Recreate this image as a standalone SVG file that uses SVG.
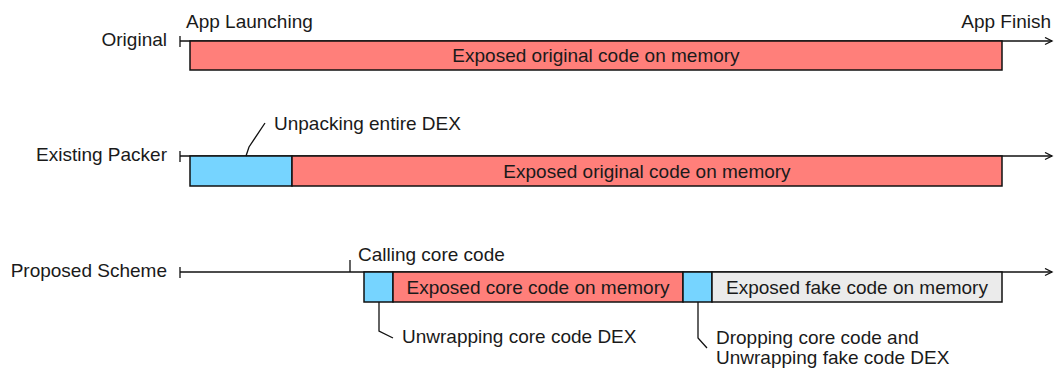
<svg xmlns="http://www.w3.org/2000/svg" width="1055" height="369" viewBox="0 0 1055 369">
  <defs>
    <marker id="arrow" markerWidth="10" markerHeight="10" refX="8" refY="4" orient="auto" markerUnits="userSpaceOnUse">
      <path d="M1,0.5 L8,4 L1,7.5" fill="none" stroke="#111" stroke-width="1.3"/>
    </marker>
  </defs>
  <style>
    text { font-family: "Liberation Sans", Arial, sans-serif; font-size: 19px; fill: #1a1a1a; }
    .axis { stroke: #111; stroke-width: 1.3; fill: none; }
    .lead { stroke: #111; stroke-width: 1.3; fill: none; }
    .seg { stroke: #111; stroke-width: 1.5; }
    .red { fill: #FF7F7A; }
    .blue { fill: #76D4FF; }
    .gray { fill: #EBEBEB; }
    .lbl { text-anchor: end; }
    .mid { text-anchor: middle; }
  </style>

  <!-- Row 1: original app -->
  <g id="row-original">
    <text class="lbl" x="167" y="46">Original</text>
    <line class="axis" x1="180" y1="36" x2="180" y2="47"/>
    <line class="axis" x1="180" y1="41" x2="1052" y2="41" marker-end="url(#arrow)"/>
    <rect class="seg red" x="190" y="41" width="812" height="29"/>
    <text class="mid" x="596" y="62">Exposed original code on memory</text>
    <text x="186" y="28">App Launching</text>
    <text class="lbl" x="1051" y="28">App Finish</text>
  </g>

  <!-- Row 2: existing packer -->
  <g id="row-existing">
    <text class="lbl" x="167" y="161">Existing Packer</text>
    <line class="axis" x1="180" y1="151" x2="180" y2="162"/>
    <line class="axis" x1="180" y1="156" x2="1052" y2="156" marker-end="url(#arrow)"/>
    <rect class="seg blue" x="190" y="156" width="102" height="30"/>
    <rect class="seg red" x="292" y="156" width="710" height="30"/>
    <text class="mid" x="647" y="178">Exposed original code on memory</text>
    <path class="lead" d="M246,156 L249,147 L265,123"/>
    <text x="274" y="130">Unpacking entire DEX</text>
  </g>

  <!-- Row 3: proposed scheme -->
  <g id="row-proposed">
    <text class="lbl" x="167" y="277">Proposed Scheme</text>
    <line class="axis" x1="180" y1="267" x2="180" y2="278"/>
    <line class="axis" x1="180" y1="272" x2="1052" y2="272" marker-end="url(#arrow)"/>
    <line class="axis" x1="350" y1="260" x2="350" y2="272"/>
    <text x="358" y="261">Calling core code</text>
    <rect class="seg blue" x="364" y="272" width="29" height="30"/>
    <rect class="seg red" x="393" y="272" width="290" height="30"/>
    <text class="mid" x="538" y="294">Exposed core code on memory</text>
    <rect class="seg blue" x="683" y="272" width="29" height="30"/>
    <rect class="seg gray" x="712" y="272" width="290" height="30"/>
    <text class="mid" x="857" y="294">Exposed fake code on memory</text>
    <path class="lead" d="M379,302 L379,331 L393,338"/>
    <text x="402" y="343">Unwrapping core code DEX</text>
    <path class="lead" d="M698,302 L698,338 L707,348"/>
    <text x="716" y="344">Dropping core code and</text>
    <text x="716" y="364">Unwrapping fake code DEX</text>
  </g>
</svg>
